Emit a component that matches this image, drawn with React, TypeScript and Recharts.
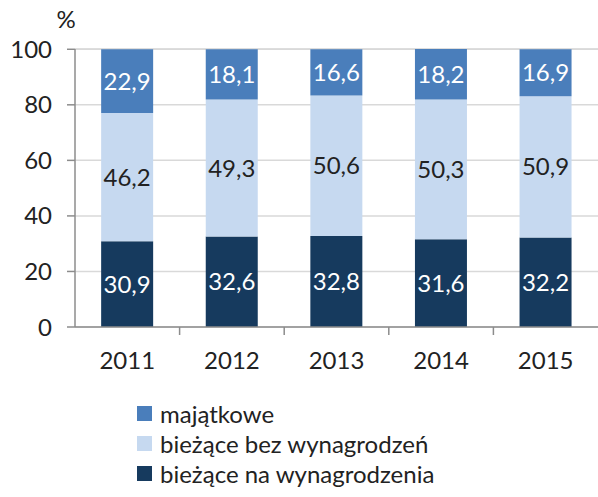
import { BarChart, Bar, XAxis, YAxis, CartesianGrid, LabelList } from "recharts";

const years = ["2011", "2012", "2013", "2014", "2015"];
const wynagrodzenia = [30.9, 32.6, 32.8, 31.6, 32.2];
const bezWynagrodzen = [46.2, 49.3, 50.6, 50.3, 50.9];
const majatkowe = [22.9, 18.1, 16.6, 18.2, 16.9];
const yTicks = [0, 20, 40, 60, 80, 100];

const DARK = "#163A5E";
const LIGHT = "#C6D9F0";
const MEDIUM = "#4A7EBB";
const FONT = "Lato, 'Open Sans', sans-serif";
const FS = 24;

const legendItems = [
  { name: "majątkowe", color: MEDIUM },
  { name: "bieżące bez wynagrodzeń", color: LIGHT },
  { name: "bieżące na wynagrodzenia", color: DARK },
];

const data = years.map((year, i) => ({
  year,
  wyn: wynagrodzenia[i],
  bez: bezWynagrodzen[i],
  maj: majatkowe[i],
}));

const fmt = (v: number) => v.toFixed(1).replace(".", ",");

const W = 598;
const H = 497;
const LEFT = 75;
const BAND = (W - LEFT) / years.length;

function XTick(props: any) {
  const { x, y, payload, index } = props;
  return (
    <g>
      {index > 0 && (
        <line x1={x - BAND / 2} x2={x - BAND / 2} y1={y - 8} y2={y} stroke="#8c8c8c" strokeWidth={1.5} />
      )}
      <text x={x} y={y + 34} textAnchor="middle" fontSize={FS} fill="#222" fontFamily={FONT}>
        {payload.value}
      </text>
    </g>
  );
}

export default function App() {
  return (
    <div style={{ position: "absolute", left: 0, top: 0, width: W, height: H, fontFamily: FONT }}>
      <BarChart width={W} height={H} data={data} barCategoryGap="25%" margin={{ top: 49, right: 0, left: 0, bottom: 130 }}>
        <CartesianGrid vertical={false} stroke="#d9d9d9" strokeWidth={1.5} />
        <XAxis dataKey="year" height={40} tick={<XTick />} tickLine={false} axisLine={{ stroke: "#8c8c8c", strokeWidth: 1.5 }} interval={0} />
        <YAxis
          width={LEFT}
          domain={[0, 100]}
          ticks={yTicks}
          tickSize={8}
          tickMargin={15}
          tick={{ fontSize: FS, fill: "#222", fontFamily: FONT }}
          axisLine={{ stroke: "#8c8c8c", strokeWidth: 1.5 }}
          tickLine={{ stroke: "#8c8c8c", strokeWidth: 1.5 }}
          label={{
            content: (p: any) => (
              <text x={p.viewBox.x + p.viewBox.width - 9} y={p.viewBox.y - 21} textAnchor="middle" fontSize={FS} fill="#222" fontFamily={FONT}>
                %
              </text>
            ),
          }}
        />
        <Bar dataKey="wyn" stackId="a" fill={DARK} isAnimationActive={false}>
          <LabelList dataKey="wyn" position="center" formatter={fmt} fill="#fff" fontSize={FS} fontFamily={FONT} />
        </Bar>
        <Bar dataKey="bez" stackId="a" fill={LIGHT} isAnimationActive={false}>
          <LabelList dataKey="bez" position="center" formatter={fmt} fill="#222" fontSize={FS} fontFamily={FONT} />
        </Bar>
        <Bar dataKey="maj" stackId="a" fill={MEDIUM} isAnimationActive={false}>
          <LabelList dataKey="maj" position="center" formatter={fmt} fill="#fff" fontSize={FS} fontFamily={FONT} />
        </Bar>
      </BarChart>
      <div style={{ position: "absolute", left: 137, top: 398 }}>
        {legendItems.map((it) => (
          <div key={it.name} style={{ display: "flex", alignItems: "center", height: 30, fontSize: FS, color: "#222", whiteSpace: "nowrap" }}>
            <span style={{ width: 15, height: 15, background: it.color, marginRight: 8, display: "inline-block", flexShrink: 0 }} />
            {it.name}
          </div>
        ))}
      </div>
    </div>
  );
}
